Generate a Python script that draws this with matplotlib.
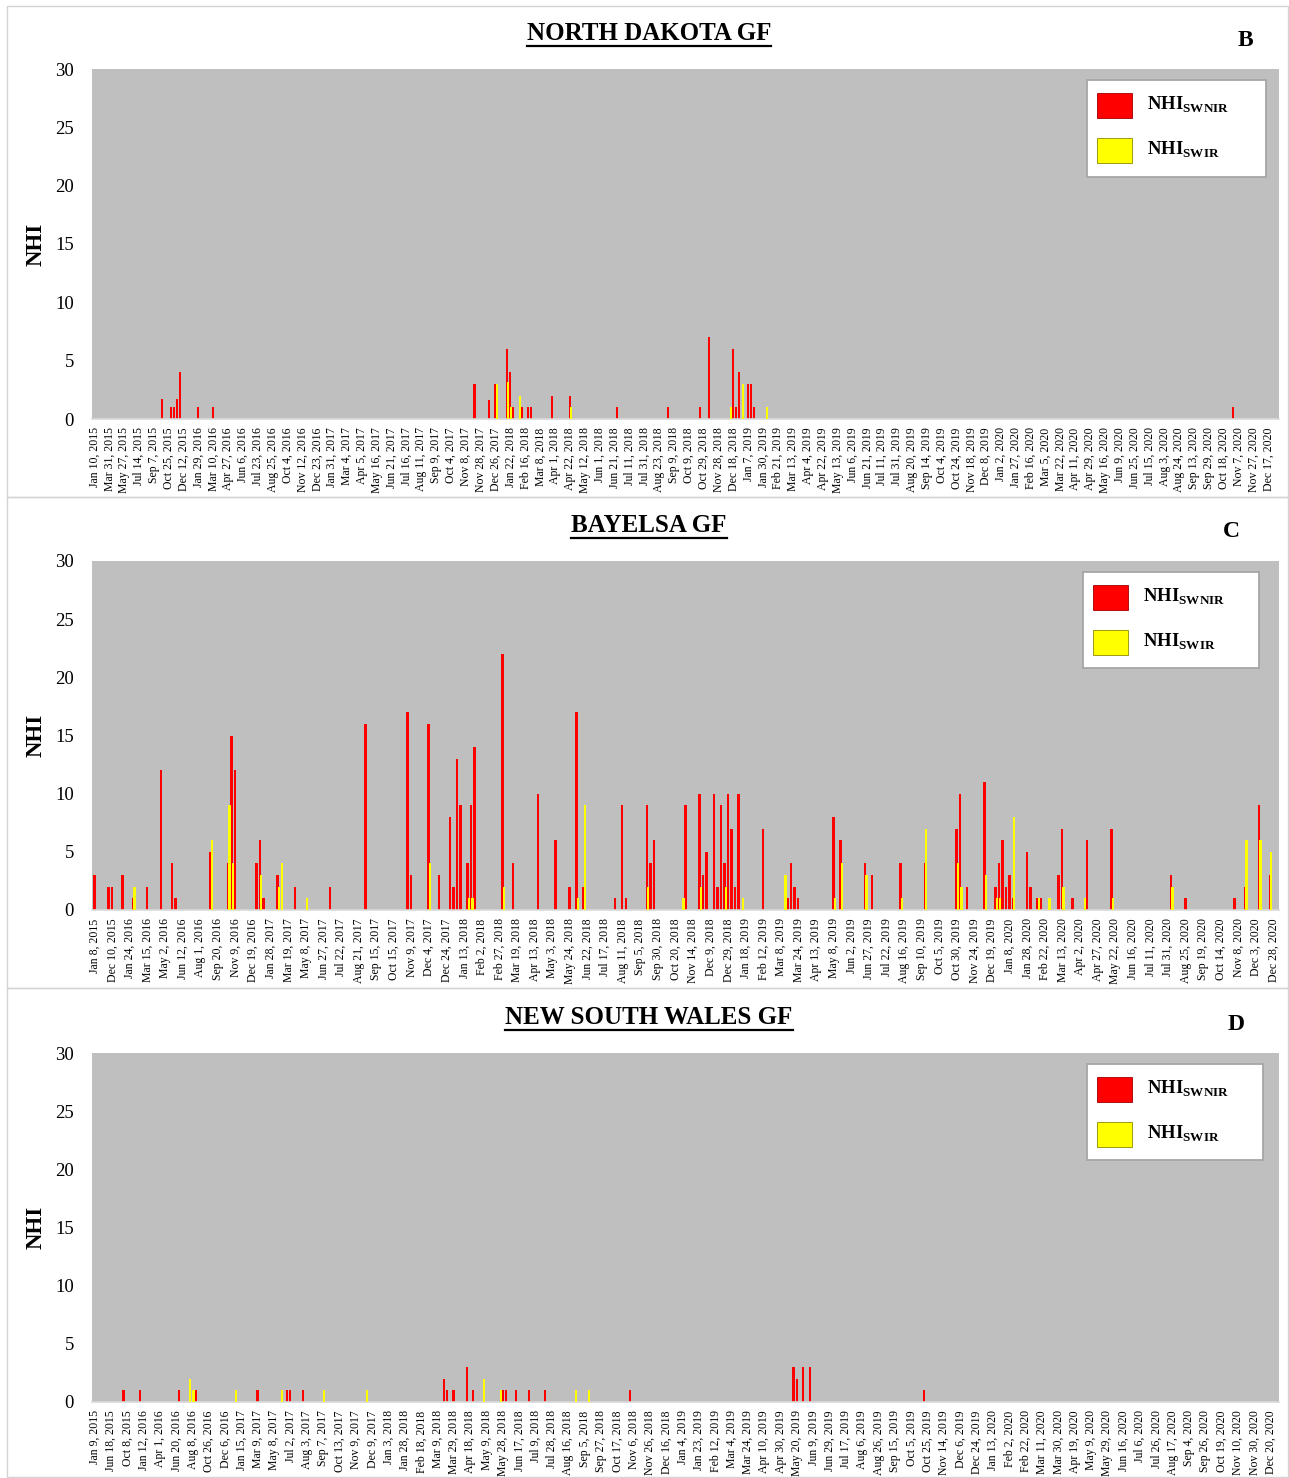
import numpy as np
import matplotlib
matplotlib.use("Agg")
import matplotlib.pyplot as plt
from matplotlib.patches import Rectangle
from matplotlib.lines import Line2D

plt.rcParams['font.family'] = ['Liberation Serif', 'DejaVu Serif']
plt.rcParams['mathtext.fontset'] = 'custom'
plt.rcParams['mathtext.rm'] = 'Liberation Serif'
plt.rcParams['mathtext.bf'] = 'Liberation Serif:bold'

# ---------------------------------------------------------------- data
# Each site: observation count, tick labels (every 5th observation date),
# and the observations that carry a non-zero NHI count.

nd_n_obs = 399
nd_labels = [
    "Jan 10, 2015", "Mar 31, 2015", "May 27, 2015", "Jul 14, 2015", "Sep 7, 2015",
    "Oct 25, 2015", "Dec 12, 2015", "Jan 29, 2016", "Mar 10, 2016", "Apr 27, 2016",
    "Jun 6, 2016", "Jul 23, 2016", "Aug 25, 2016", "Oct 4, 2016", "Nov 12, 2016",
    "Dec 23, 2016", "Jan 31, 2017", "Mar 4, 2017", "Apr 5, 2017", "May 16, 2017",
    "Jun 21, 2017", "Jul 16, 2017", "Aug 11, 2017", "Sep 9, 2017", "Oct 4, 2017",
    "Nov 8, 2017", "Nov 28, 2017", "Dec 26, 2017", "Jan 22, 2018", "Feb 16, 2018",
    "Mar 8, 2018", "Apr 1, 2018", "Apr 22, 2018", "May 12, 2018", "Jun 1, 2018",
    "Jun 21, 2018", "Jul 11, 2018", "Jul 31, 2018", "Aug 23, 2018", "Sep 9, 2018",
    "Oct 9, 2018", "Oct 29, 2018", "Nov 28, 2018", "Dec 18, 2018", "Jan 7, 2019",
    "Jan 30, 2019", "Feb 21, 2019", "Mar 13, 2019", "Apr 4, 2019", "Apr 22, 2019",
    "May 13, 2019", "Jun 6, 2019", "Jun 21, 2019", "Jul 11, 2019", "Jul 31, 2019",
    "Aug 20, 2019", "Sep 14, 2019", "Oct 4, 2019", "Oct 24, 2019", "Nov 18, 2019",
    "Dec 8, 2019", "Jan 2, 2020", "Jan 27, 2020", "Feb 16, 2020", "Mar 5, 2020",
    "Mar 22, 2020", "Apr 11, 2020", "Apr 29, 2020", "May 16, 2020", "Jun 9, 2020",
    "Jun 25, 2020", "Jul 15, 2020", "Aug 3, 2020", "Aug 24, 2020", "Sep 13, 2020",
    "Sep 29, 2020", "Oct 18, 2020", "Nov 7, 2020", "Nov 27, 2020", "Dec 17, 2020",
]
nd_obs = [23, 26, 27, 28, 29, 35, 40, 128, 133, 135, 139, 140, 141, 143, 144, 146,
          147, 154, 160, 176, 193, 204, 207, 214, 215, 216, 217, 218, 220, 221, 222,
          226, 383]
nd_swnir = [1.7, 1, 1, 1.7, 4, 1, 1, 3, 1.6, 3, 6, 4, 1, 0, 1, 1,
            1, 2, 2, 1, 1, 1, 7, 0, 6, 1, 4, 0, 3, 3, 1,
            0, 1]
nd_swir = [0, 0, 0, 0, 0, 0, 0, 0, 0, 3, 3.2, 1, 0, 2, 0, 0,
           0, 0, 1, 0, 0, 0, 0, 1, 0, 0, 0, 3, 0, 0, 0,
           1, 0]

by_n_obs = 337
by_labels = [
    "Jan 8, 2015", "Dec 10, 2015", "Jan 24, 2016", "Mar 15, 2016", "May 2, 2016",
    "Jun 12, 2016", "Aug 1, 2016", "Sep 20, 2016", "Nov 9, 2016", "Dec 19, 2016",
    "Jan 28, 2017", "Mar 19, 2017", "May 8, 2017", "Jun 27, 2017", "Jul 22, 2017",
    "Aug 21, 2017", "Sep 15, 2017", "Oct 15, 2017", "Nov 9, 2017", "Dec 4, 2017",
    "Dec 24, 2017", "Jan 13, 2018", "Feb 2, 2018", "Feb 27, 2018", "Mar 19, 2018",
    "Apr 13, 2018", "May 3, 2018", "May 24, 2018", "Jun 22, 2018", "Jul 17, 2018",
    "Aug 11, 2018", "Sep 5, 2018", "Sep 30, 2018", "Oct 20, 2018", "Nov 14, 2018",
    "Dec 9, 2018", "Dec 29, 2018", "Jan 18, 2019", "Feb 12, 2019", "Mar 8, 2019",
    "Mar 24, 2019", "Apr 13, 2019", "May 8, 2019", "Jun 2, 2019", "Jun 27, 2019",
    "Jul 22, 2019", "Aug 16, 2019", "Sep 10, 2019", "Oct 5, 2019", "Oct 30, 2019",
    "Nov 24, 2019", "Dec 19, 2019", "Jan 8, 2020", "Jan 28, 2020", "Feb 22, 2020",
    "Mar 13, 2020", "Apr 2, 2020", "Apr 27, 2020", "May 22, 2020", "Jun 16, 2020",
    "Jul 11, 2020", "Jul 31, 2020", "Aug 25, 2020", "Sep 19, 2020", "Oct 14, 2020",
    "Nov 8, 2020", "Dec 3, 2020", "Dec 28, 2020",
]
by_obs = [0, 4, 5, 8, 11, 15, 19, 22, 23, 33, 38, 39, 40, 46, 47, 48, 52, 53, 57, 60,
          67, 77, 89, 90, 95, 98, 101, 102, 103, 104, 106, 107, 108,
          116, 119, 126, 131, 135, 137, 139, 148, 150, 151, 157, 158, 159, 167, 168,
          172, 173, 174, 176, 177, 178, 179, 180, 181, 182, 183, 184, 190, 196, 197,
          198, 199, 200, 210, 212, 219, 221,
          229, 236, 245, 246, 248, 253, 256, 257, 258, 259, 260, 261, 265, 266, 268,
          269, 271, 274, 275, 278, 281, 282, 289, 306, 310, 324, 327, 331, 334]
by_swnir = [3, 2, 2, 3, 1, 2, 12, 4, 1, 5, 4, 15, 12, 4, 6, 1, 3, 0, 2, 0,
            2, 16, 17, 3, 16, 3, 8, 2, 13, 9, 4, 9, 14,
            22, 4, 10, 6, 2, 17, 2, 1, 9, 1, 9, 4, 6, 0, 9,
            10, 3, 5, 10, 2, 9, 4, 10, 7, 2, 10, 0, 7, 0, 1,
            4, 2, 1, 8, 6, 4, 3,
            4, 4, 7, 10, 2, 11, 2, 4, 6, 2, 3, 1, 5, 2, 1,
            1, 0, 3, 7, 1, 0, 6, 7, 3, 1, 1, 2, 9, 3]
by_swir = [0, 0, 0, 0, 2, 0, 0, 0, 0, 6, 9, 4, 0, 0, 3, 0, 2, 4, 0, 1,
           0, 0, 0, 0, 4, 0, 0, 0, 0, 0, 1, 1, 0,
           2, 0, 0, 0, 0, 1, 9, 0, 0, 0, 2, 0, 0, 1, 0,
           2, 0, 0, 0, 0, 0, 2, 0, 0, 0, 0, 1, 0, 3, 0,
           0, 0, 0, 1, 4, 3, 0,
           1, 7, 4, 2, 0, 3, 1, 1, 0, 0, 0, 8, 0, 0, 1,
           0, 1, 0, 2, 0, 1, 0, 1, 2, 0, 0, 6, 6, 5]

nsw_n_obs = 363
nsw_labels = [
    "Jan 9, 2015", "Jun 18, 2015", "Oct 8, 2015", "Jan 12, 2016", "Apr 1, 2016",
    "Jun 20, 2016", "Aug 8, 2016", "Oct 26, 2016", "Dec 6, 2016", "Jan 15, 2017",
    "Mar 9, 2017", "May 8, 2017", "Jul 2, 2017", "Aug 3, 2017", "Sep 7, 2017",
    "Oct 13, 2017", "Nov 9, 2017", "Dec 9, 2017", "Jan 3, 2018", "Jan 28, 2018",
    "Feb 18, 2018", "Mar 9, 2018", "Mar 29, 2018", "Apr 18, 2018", "May 9, 2018",
    "May 28, 2018", "Jun 17, 2018", "Jul 9, 2018", "Jul 28, 2018", "Aug 16, 2018",
    "Sep 5, 2018", "Sep 27, 2018", "Oct 17, 2018", "Nov 6, 2018", "Nov 26, 2018",
    "Dec 16, 2018", "Jan 4, 2019", "Jan 23, 2019", "Feb 12, 2019", "Mar 4, 2019",
    "Mar 24, 2019", "Apr 10, 2019", "Apr 30, 2019", "May 20, 2019", "Jun 9, 2019",
    "Jun 29, 2019", "Jul 17, 2019", "Aug 6, 2019", "Aug 26, 2019", "Sep 15, 2019",
    "Oct 5, 2019", "Oct 25, 2019", "Nov 14, 2019", "Dec 6, 2019", "Dec 24, 2019",
    "Jan 13, 2020", "Feb 2, 2020", "Feb 22, 2020", "Mar 11, 2020", "Mar 30, 2020",
    "Apr 19, 2020", "May 9, 2020", "May 29, 2020", "Jun 16, 2020", "Jul 6, 2020",
    "Jul 26, 2020", "Aug 17, 2020", "Sep 4, 2020", "Sep 26, 2020", "Oct 19, 2020",
    "Nov 10, 2020", "Nov 30, 2020", "Dec 20, 2020",
]
nsw_obs = [9, 14, 26, 29, 30, 31, 43, 50, 57, 59, 60, 64, 70, 83, 107, 108, 110, 114,
           116, 119, 124, 125, 126, 129, 133, 138, 147, 151, 164, 214, 215, 217, 219,
           254]
nsw_swnir = [1, 1, 1, 0, 0, 1, 0, 1, 0, 1, 1, 1, 0, 0, 2, 1, 1, 3,
             1, 0, 0, 1, 1, 1, 1, 1, 0, 0, 1, 3, 2, 3, 3,
             1]
nsw_swir = [0, 0, 0, 2, 1, 0, 1, 0, 1, 0, 0, 0, 1, 1, 0, 0, 0, 0,
            0, 2, 1, 0, 0, 0, 0, 0, 1, 1, 0, 0, 0, 0, 0,
            0]

panel_titles = ["NORTH DAKOTA GF", "BAYELSA GF", "NEW SOUTH WALES GF"]
panel_letters = ["B", "C", "D"]
series_names = [r"$\mathbf{NHI}_{\mathbf{SWNIR}}$", r"$\mathbf{NHI}_{\mathbf{SWIR}}$"]

# ---------------------------------------------------------------- layout (pixels)
W, H = 1289, 1478
fig = plt.figure(figsize=(W / 100, H / 100), dpi=100)
fig.patch.set_facecolor("white")

RED = "#FF0000"
YELLOW = "#FFFF00"
PLOT_BG = "#BFBFBF"


def fx(x):
    return x / W


def fy(y):
    return 1 - y / H


panels = [
    dict(n=nd_n_obs, labels=nd_labels, obs=nd_obs, swnir=nd_swnir, swir=nd_swir,
         ax=(92, 69, 1279, 419), frame=(7, 6, 1288, 497), legend=(1087, 80, 1266, 177),
         title=(649, 33), letter=(1245, 40)),
    dict(n=by_n_obs, labels=by_labels, obs=by_obs, swnir=by_swnir, swir=by_swir,
         ax=(92, 561, 1279, 910), frame=(7, 497, 1288, 988), legend=(1083, 572, 1259, 668),
         title=(649, 525), letter=(1231, 532)),
    dict(n=nsw_n_obs, labels=nsw_labels, obs=nsw_obs, swnir=nsw_swnir, swir=nsw_swir,
         ax=(92, 1053, 1279, 1402), frame=(7, 988, 1288, 1477), legend=(1087, 1064, 1263, 1160),
         title=(649, 1017), letter=(1236, 1025)),
]

renderer = fig.canvas.get_renderer()

for p, title, letter in zip(panels, panel_titles, panel_letters):
    # light frame around the panel
    fl, ft, fr, fb = p["frame"]
    fig.add_artist(Rectangle((fx(fl), fy(fb)), fx(fr) - fx(fl), fy(ft) - fy(fb),
                             transform=fig.transFigure, facecolor="none",
                             edgecolor="#d4d4d4", linewidth=1.0, zorder=0))

    l, t, r, b = p["ax"]
    ax = fig.add_axes([fx(l), fy(b), fx(r) - fx(l), fy(t) - fy(b)])
    ax.set_facecolor(PLOT_BG)

    n = p["n"]
    red = np.zeros(n)
    yel = np.zeros(n)
    red[p["obs"]] = p["swnir"]
    yel[p["obs"]] = p["swir"]
    x = np.arange(n)
    ax.bar(x - 0.12, red, width=0.7, color=RED, linewidth=0, zorder=2)
    ax.bar(x + 0.28, yel, width=0.66, color=YELLOW, linewidth=0, zorder=3)

    ax.set_xlim(-0.8, n - 0.5)
    ax.set_ylim(0, 30)
    ax.set_yticks(np.arange(0, 31, 5))
    ax.set_yticklabels([str(v) for v in range(0, 31, 5)], fontsize=13.5)
    ticks = np.arange(len(p["labels"])) * 5
    ax.set_xticks(ticks)
    ax.set_xticklabels(p["labels"], rotation=90, fontsize=8.5)
    ax.tick_params(axis="both", length=0)
    ax.tick_params(axis="y", pad=13)
    ax.tick_params(axis="x", pad=6)
    for s in ("top", "right", "left"):
        ax.spines[s].set_visible(False)
    ax.spines["bottom"].set_color("#d9d9d9")
    ax.spines["bottom"].set_linewidth(1.2)

    ax.set_ylabel("NHI", fontsize=16.5, fontweight="bold")
    ax.yaxis.set_label_coords((47 - l) / (r - l), 0.5)

    # panel title, underlined
    tx, ty = p["title"]
    ttl = fig.text(fx(tx), fy(ty), title, fontsize=18, fontweight="bold",
                   ha="center", va="center")
    bb = ttl.get_window_extent(renderer=renderer)
    uy = bb.y0 - 1
    fig.add_artist(Line2D([bb.x0 / W, bb.x1 / W], [uy / H, uy / H],
                          transform=fig.transFigure, color="black", linewidth=1.6))

    lx, ly = p["letter"]
    fig.text(fx(lx), fy(ly), letter, fontsize=17, fontweight="bold",
             ha="center", va="center")

    # legend box
    gl, gt, gr, gb = p["legend"]
    fig.add_artist(Rectangle((fx(gl), fy(gb)), fx(gr) - fx(gl), fy(gt) - fy(gb),
                             transform=fig.transFigure, facecolor="white",
                             edgecolor="#a6a6a6", linewidth=1.3, zorder=5))
    for k, (col, edge, name) in enumerate([(RED, "#a00000", series_names[0]),
                                           (YELLOW, "#8c8c00", series_names[1])]):
        py = gt + 13 + 45 * k
        fig.add_artist(Rectangle((fx(gl + 10), fy(py + 25)), fx(35), fy(0) - fy(25),
                                 transform=fig.transFigure, facecolor=col,
                                 edgecolor=edge, linewidth=0.6, zorder=6))
        fig.text(fx(gl + 60), fy(py + 12), name, fontsize=13.5, ha="left",
                 va="center", zorder=7)

fig.savefig("out.png", dpi=100, facecolor="white")
